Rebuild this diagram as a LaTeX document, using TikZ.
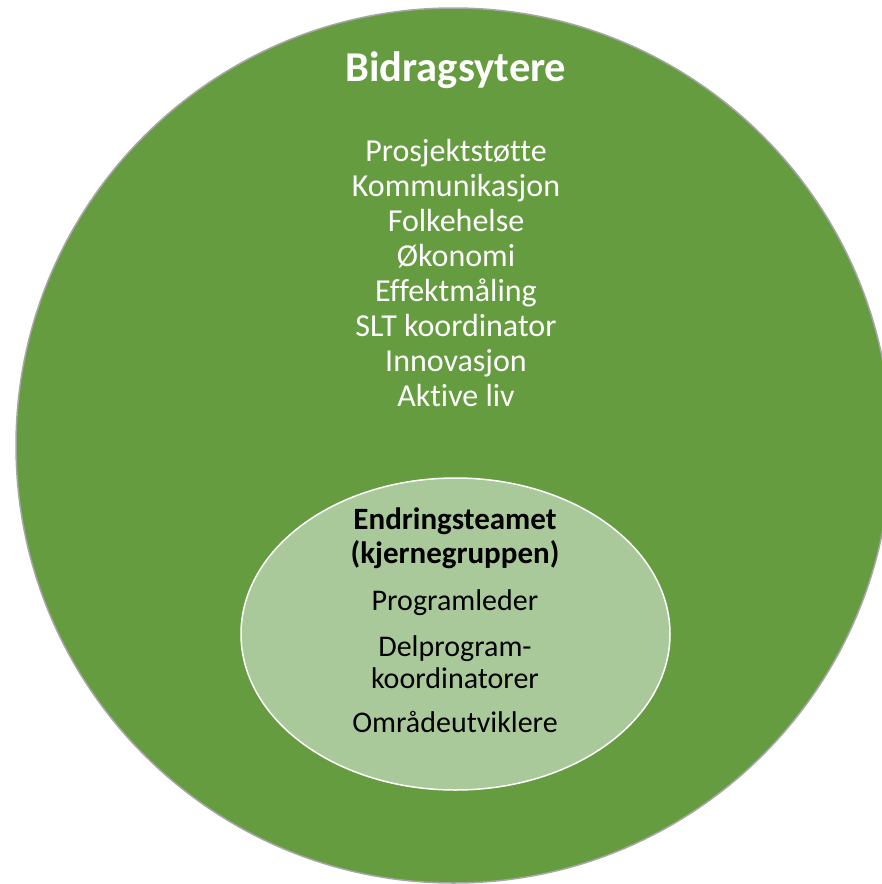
\documentclass[tikz,border=0pt]{standalone}
\usepackage{fontspec}
\setmainfont{Carlito}[Ligatures={CommonOff,ContextualOff}, Contextuals=AlternateOff]
\usepackage{xcolor}
\usetikzlibrary{positioning}
\definecolor{outergreen}{HTML}{669C40}
\definecolor{innergreen}{HTML}{AAC99A}
\tikzset{
  outer/.style = {fill=outergreen, draw=gray!70, line width=1.5pt},
  inner/.style = {fill=innergreen, draw=white, line width=1.5pt},
  whitetext/.style = {text=white, align=center, inner sep=0pt},
  blacktext/.style = {text=black, align=center, inner sep=0pt}
}

\begin{document}
\begin{tikzpicture}[x=1pt, y=-1pt]
  \useasboundingbox (0,0) rectangle (882,884);
  \clip (0,0) rectangle (882,884);
  \coordinate (o) at (453.5,445.5);
  \coordinate (i) at (455.5,634);
  \filldraw[outer] (o) circle (437.5);
  \filldraw[inner] (i) ellipse (214.5 and 156);
  % outer circle
  \node[whitetext, font=\fontsize{42.5}{46}\selectfont\bfseries] (bidrag) at (456,70) {Bidragsytere};
  \node[whitetext, font=\fontsize{32}{35.1}\selectfont] (liste) at (456,273)
    {Prosjektstøtte\\Kommunikasjon\\Folkehelse\\Økonomi\\Effektmåling\\SLT koordinator\\Innovasjon\\Aktive liv};
  % inner ellipse
  \node[blacktext, font=\fontsize{31}{34}\selectfont\bfseries] (endring) at (455,538)
    {Endringsteamet\\(kjernegruppen)};
  \node[blacktext, font=\fontsize{30}{32.5}\selectfont] (leder) at (455,603) {Programleder};
  \node[blacktext, font=\fontsize{30}{32.5}\selectfont] (delprog) at (455,662) {Delprogram-\\koordinatorer};
  \node[blacktext, font=\fontsize{30}{32.5}\selectfont] (omrade) at (455,722) {Områdeutviklere};
\end{tikzpicture}
\end{document}
